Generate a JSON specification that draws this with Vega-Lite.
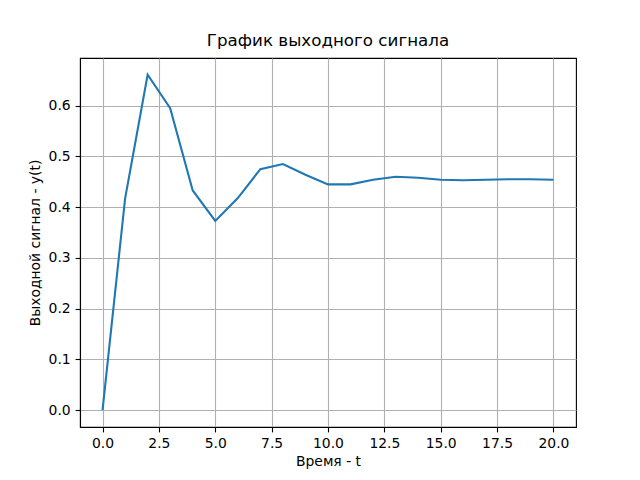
{
  "$schema": "https://vega.github.io/schema/vega-lite/v6.json",
  "autosize": {"type": "none"},
  "width": 496,
  "height": 369,
  "padding": {"left": 80, "top": 58, "right": 64, "bottom": 53},
  "background": "white",
  "title": {"text": "График выходного сигнала", "font": "DejaVu Sans", "fontSize": 16.7, "fontWeight": "normal", "color": "black", "offset": 8, "anchor": "middle"},
  "config": {
    "view": {"stroke": "black", "strokeWidth": 1.1},
    "axis": {
      "labelFont": "DejaVu Sans", "labelFontSize": 13.9, "labelColor": "black",
      "titleFont": "DejaVu Sans", "titleFontSize": 13.9, "titleColor": "black", "titleFontWeight": "normal",
      "domainColor": "black", "domainWidth": 1.1,
      "tickColor": "black", "tickWidth": 1.1, "tickSize": 4.9, "labelPadding": 4.9,
      "gridColor": "#b0b0b0", "gridWidth": 1.1, "gridOpacity": 1
    }
  },
  "data": {"values": [
    {"t": 0, "y": 0.0},
    {"t": 1, "y": 0.417},
    {"t": 2, "y": 0.661},
    {"t": 3, "y": 0.595},
    {"t": 4, "y": 0.433},
    {"t": 5, "y": 0.373},
    {"t": 6, "y": 0.418},
    {"t": 7, "y": 0.475},
    {"t": 8, "y": 0.485},
    {"t": 9, "y": 0.464},
    {"t": 10, "y": 0.445},
    {"t": 11, "y": 0.445},
    {"t": 12, "y": 0.454},
    {"t": 13, "y": 0.460},
    {"t": 14, "y": 0.458},
    {"t": 15, "y": 0.454},
    {"t": 16, "y": 0.453},
    {"t": 17, "y": 0.454},
    {"t": 18, "y": 0.455},
    {"t": 19, "y": 0.455},
    {"t": 20, "y": 0.454}
  ]},
  "mark": {"type": "line", "color": "#1f77b4", "strokeWidth": 2.08, "clip": true},
  "encoding": {
    "x": {"field": "t", "type": "quantitative",
      "scale": {"domain": [-1, 21], "nice": false, "zero": false},
      "axis": {"title": "Время - t", "values": [0, 2.5, 5, 7.5, 10, 12.5, 15, 17.5, 20], "format": ".1f", "titlePadding": 4}},
    "y": {"field": "y", "type": "quantitative",
      "scale": {"domain": [-0.0331, 0.694], "nice": false, "zero": false},
      "axis": {"title": "Выходной сигнал - y(t)", "values": [0, 0.1, 0.2, 0.3, 0.4, 0.5, 0.6], "format": ".1f", "titlePadding": 6}}
  }
}
